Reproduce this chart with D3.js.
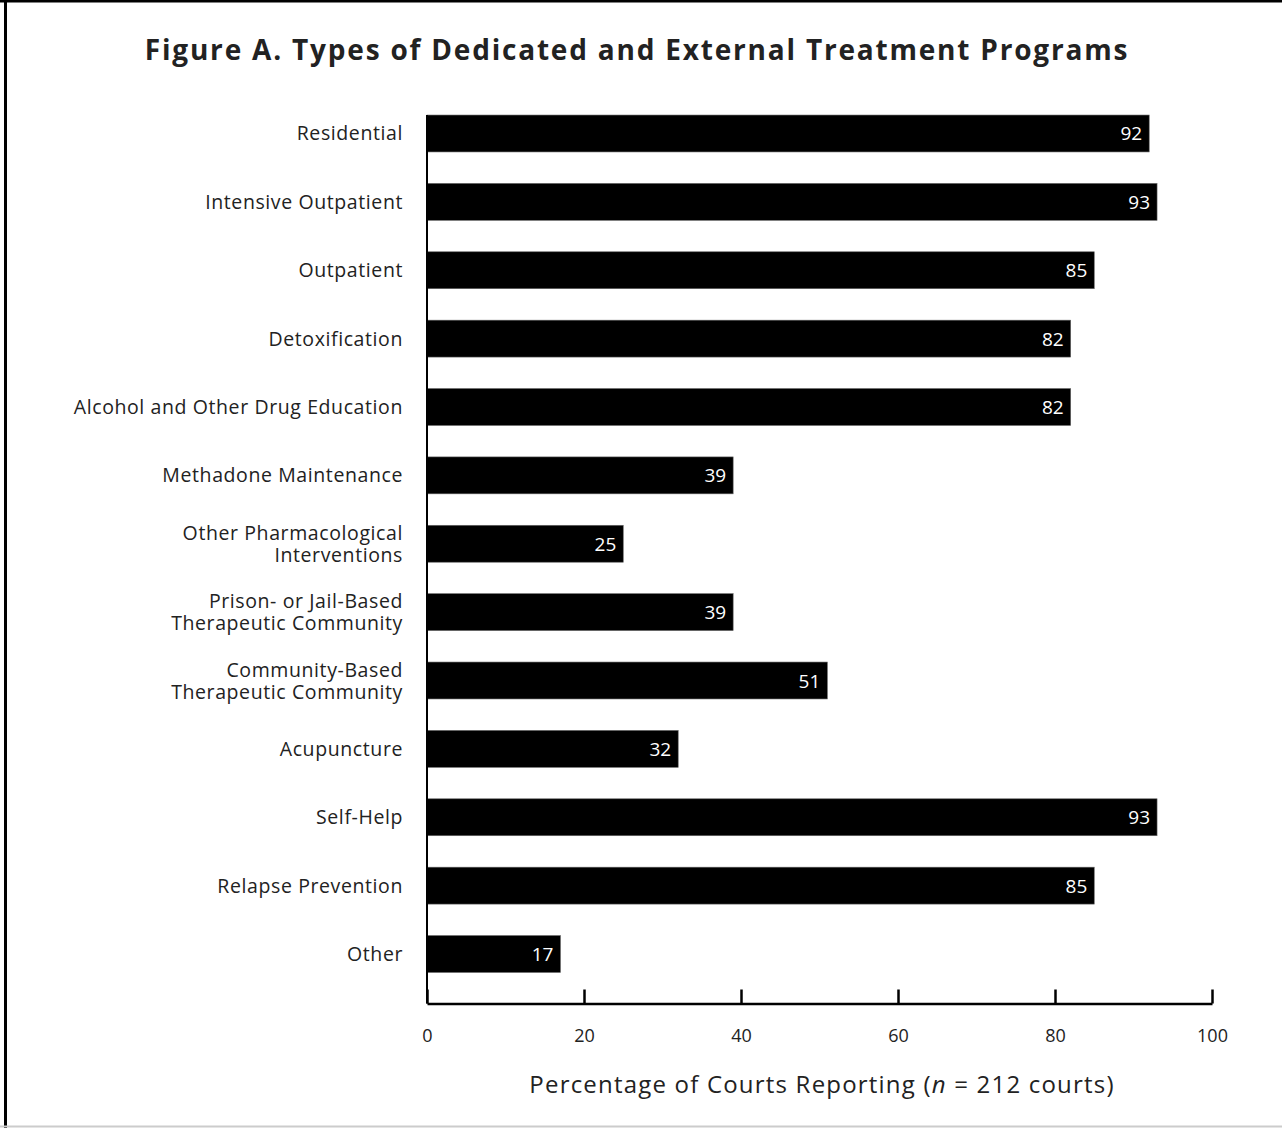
<!DOCTYPE html>
<html>
  <head>
    <title>Figure A</title>
    <script src="https://cdn.jsdelivr.net/npm/d3@7"></script>
    <style>
      body { margin: 0; background: #fff; }
      text { font-family: "Open Sans", "Lato", sans-serif; }
    </style>
  </head>
  <body>
    <script>
      // Programtyper (kategorier) og procenter
      const categories = [
        ["Residential"],
        ["Intensive Outpatient"],
        ["Outpatient"],
        ["Detoxification"],
        ["Alcohol and Other Drug Education"],
        ["Methadone Maintenance"],
        ["Other Pharmacological", "Interventions"],
        ["Prison- or Jail-Based", "Therapeutic Community"],
        ["Community-Based", "Therapeutic Community"],
        ["Acupuncture"],
        ["Self-Help"],
        ["Relapse Prevention"],
        ["Other"]
      ];
      const values = [92, 93, 85, 82, 82, 39, 25, 39, 51, 32, 93, 85, 17];
      const xTicks = [0, 20, 40, 60, 80, 100];

      const w = 1282;
      const h = 1128;

      const svg = d3.select("body").append("svg")
        .attr("width", w)
        .attr("height", h);

      // Ramme
      svg.append("line").attr("x1", 0).attr("x2", w).attr("y1", 1).attr("y2", 1)
        .attr("stroke", "#000").attr("stroke-width", 3);
      svg.append("line").attr("x1", 5.5).attr("x2", 5.5).attr("y1", 0).attr("y2", h)
        .attr("stroke", "#000").attr("stroke-width", 3);
      svg.append("line").attr("x1", 0).attr("x2", w).attr("y1", 1126.5).attr("y2", 1126.5)
        .attr("stroke", "#ccc").attr("stroke-width", 2);

      // Titel
      svg.append("text")
        .attr("x", 637).attr("y", 60)
        .attr("text-anchor", "middle")
        .attr("font-size", "28px")
        .attr("font-weight", "bold")
        .attr("letter-spacing", "1.8px")
        .attr("fill", "#222")
        .text("Figure A.  Types of Dedicated and External Treatment Programs");

      const idx = d3.range(categories.length);
      const x = d3.scaleLinear().domain([0, 100]).range([427, 1212]);
      const y = d3.scaleBand().domain(idx).range([99.3, 988.2])
        .paddingInner(0.46).paddingOuter(0.23);

      // Søjler
      svg.selectAll("rect.bar")
        .data(values)
        .enter()
        .append("rect")
        .attr("class", "bar")
        .attr("x", x(0))
        .attr("y", function (d, i) { return y(i); })
        .attr("width", function (d) { return x(d) - x(0); })
        .attr("height", y.bandwidth())
        .attr("fill", "#000")
        .attr("stroke", "#666")
        .attr("stroke-width", 0.6);

      // Værdier i søjlerne
      svg.selectAll("text.val")
        .data(values)
        .enter()
        .append("text")
        .attr("class", "val")
        .attr("x", function (d) { return x(d) - 7; })
        .attr("y", function (d, i) { return y(i) + y.bandwidth() / 2 + 7; })
        .attr("text-anchor", "end")
        .attr("font-size", "19px")
        .attr("fill", "#fff")
        .text(function (d) { return d; });

      // Kategori-labels
      const labels = svg.selectAll("text.cat")
        .data(categories)
        .enter()
        .append("text")
        .attr("class", "cat")
        .attr("text-anchor", "end")
        .attr("font-size", "19.5px")
        .attr("letter-spacing", "0.6px")
        .attr("fill", "#222");
      labels.each(function (lines, i) {
        const cy = y(i) + y.bandwidth() / 2;
        const t = d3.select(this);
        lines.forEach(function (line, j) {
          t.append("tspan")
            .attr("x", 403)
            .attr("y", cy + 7 + (j - (lines.length - 1) / 2) * 22)
            .text(line);
        });
      });

      // Akser
      const axisY = 1003.5;
      svg.append("line")
        .attr("x1", x(0)).attr("x2", x(0))
        .attr("y1", y(0)).attr("y2", axisY)
        .attr("stroke", "#000").attr("stroke-width", 2);

      const xAxis = d3.axisBottom(x).tickValues(xTicks).tickSizeInner(-14).tickSizeOuter(0).tickPadding(26);
      const gx = svg.append("g")
        .attr("transform", "translate(0," + axisY + ")")
        .call(xAxis);
      gx.select(".domain").attr("stroke-width", 2.5);
      gx.selectAll(".tick line").attr("stroke-width", 2.5);
      gx.selectAll(".tick text")
        .attr("font-size", "18px")
        .attr("font-family", "Lato, sans-serif")
        .attr("fill", "#222");

      // Aksetitel
      const title = svg.append("text")
        .attr("x", 822).attr("y", 1093)
        .attr("text-anchor", "middle")
        .attr("font-size", "24px")
        .attr("letter-spacing", "1.2px")
        .attr("fill", "#222");
      title.append("tspan").text("Percentage of Courts Reporting (");
      title.append("tspan").attr("font-style", "italic").text("n");
      title.append("tspan").text(" = 212 courts)");
    </script>
  </body>
</html>
